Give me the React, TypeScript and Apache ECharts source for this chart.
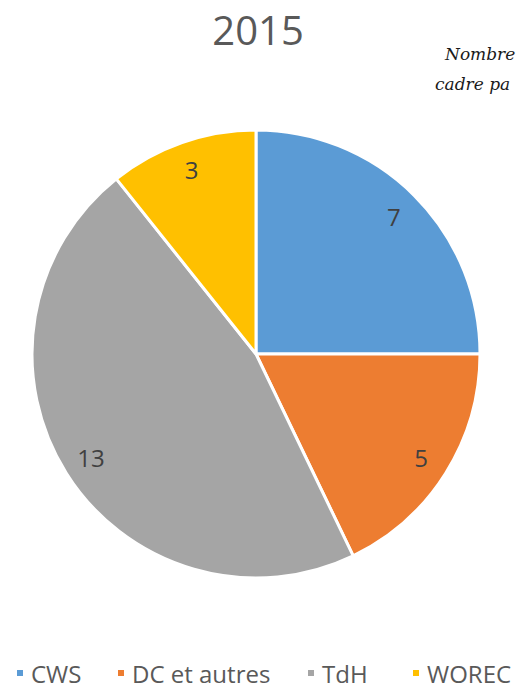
import React, { useEffect, useRef } from "react";
import * as echarts from "echarts";

const categories = ["CWS", "DC et autres", "TdH", "WOREC"];
const values = [7, 5, 13, 3];
const colors = ["#5B9BD5", "#ED7D31", "#A5A5A5", "#FFC000"];
const titleText = "2015";
const noteLines = ["Nombre", "cadre pa"];
const legendLefts = [15, 116, 306, 411];

export default function App() {
  const ref = useRef<HTMLDivElement>(null);
  useEffect(() => {
    if (!ref.current) return;
    const chart = echarts.init(ref.current, null, { renderer: "svg" });
    const data = categories.map((name, i) => ({ name, value: values[i] }));
    chart.setOption({
      animation: false,
      color: colors,
      title: {
        text: titleText,
        left: 253,
        top: 4,
        textAlign: "center",
        textStyle: { fontFamily: "Open Sans", fontSize: 40, fontWeight: "normal", color: "#595959" },
      },
      graphic: [
        {
          type: "text",
          left: 445,
          top: 45,
          style: { text: noteLines[0], font: "italic 17px 'DejaVu Serif'", fill: "#1a1a1a" },
        },
        {
          type: "text",
          left: 435,
          top: 75,
          style: { text: noteLines[1], font: "italic 17px 'DejaVu Serif'", fill: "#1a1a1a" },
        },
      ],
      legend: categories.map((c, i) => ({
        top: 661,
        left: legendLefts[i],
        icon: "rect",
        itemWidth: 8,
        itemHeight: 8,
        padding: 0,
        data: [c],
        textStyle: { fontFamily: "Open Sans", fontSize: 24, color: "#595959", padding: [0, 0, 0, 2] },
      })),
      series: [
        {
          type: "pie",
          center: [256, 354],
          radius: [0, 224],
          startAngle: 90,
          clockwise: true,
          data,
          label: { show: false },
          labelLine: { show: false },
          itemStyle: { borderColor: "#ffffff", borderWidth: 3 },
          emphasis: { disabled: true },
        },
        {
          type: "pie",
          center: [256, 354],
          radius: [160, 224],
          startAngle: 90,
          clockwise: true,
          data,
          silent: true,
          itemStyle: { color: "transparent", borderWidth: 0 },
          label: {
            show: true,
            position: "inside",
            formatter: "{c}",
            fontFamily: "Open Sans",
            fontSize: 24,
            color: "#404040",
          },
          labelLine: { show: false },
          emphasis: { disabled: true },
        },
      ],
    });
    return () => chart.dispose();
  }, []);
  return (
    <div
      ref={ref}
      style={{ position: "fixed", left: 0, top: 0, width: 517, height: 688, background: "#ffffff" }}
    />
  );
}
